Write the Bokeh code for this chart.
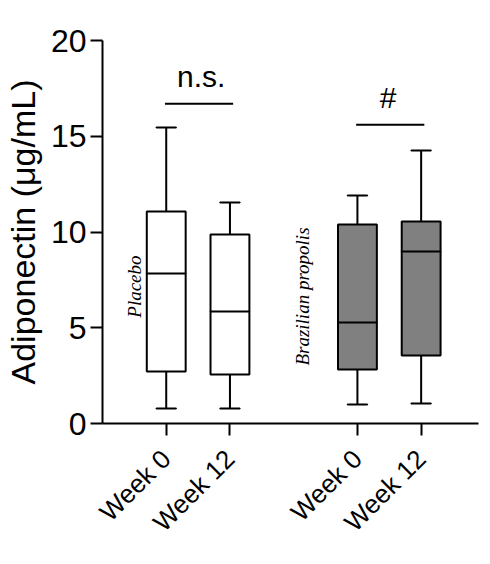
import math
from bokeh.plotting import figure
from bokeh.models import ColumnDataSource, FixedTicker, Range1d, Label
from bokeh.embed import file_html
from bokeh.resources import INLINE

# ---- data ----
groups = ["Placebo", "Placebo", "Brazilian propolis", "Brazilian propolis"]
weeks = ["Week 0", "Week 12", "Week 0", "Week 12"]
whisker_low = [0.78, 0.78, 0.99, 1.04]
q1 = [2.72, 2.56, 2.82, 3.55]
median = [7.83, 5.85, 5.27, 8.98]
q3 = [11.07, 9.87, 10.39, 10.55]
whisker_high = [15.46, 11.54, 11.90, 14.26]
box_colors = ["white", "white", "#808080", "#808080"]
y_ticks = [0, 5, 10, 15, 20]
y_title = "Adiponectin (μg/mL)"
sig_labels = ["n.s.", "#"]
sig_levels = [16.7, 15.6]
sig_text_levels = [18.1, 17.0]
group_label_levels = [7.15, 6.63]

# ---- positions derived from categories ----
group_names = list(dict.fromkeys(groups))
week_names = list(dict.fromkeys(weeks))
pos = [group_names.index(g) * 3 + week_names.index(w) + 1 for g, w in zip(groups, weeks)]

FONT = "Liberation Sans"
BOX_W = 0.61
CAP_W = 0.31

p = figure(width=482, height=556, output_backend="svg", toolbar_location=None,
           x_range=Range1d(0, 5.9), y_range=Range1d(0, 20),
           min_border_left=100, min_border_right=4, min_border_top=40, min_border_bottom=133)
p.outline_line_color = None
p.xgrid.visible = False
p.ygrid.visible = False
p.background_fill_color = "white"
p.border_fill_color = "white"

src = ColumnDataSource(dict(x=pos, lo=whisker_low, q1=q1, med=median, q3=q3, hi=whisker_high,
                            color=box_colors))

# whiskers
p.segment(x0="x", y0="q3", x1="x", y1="hi", source=src, line_color="black", line_width=2)
p.segment(x0="x", y0="lo", x1="x", y1="q1", source=src, line_color="black", line_width=2)
# caps
p.rect(x="x", y="hi", width=CAP_W, height=0.0001, source=src, line_color="black", line_width=2, fill_color=None)
p.rect(x="x", y="lo", width=CAP_W, height=0.0001, source=src, line_color="black", line_width=2, fill_color=None)
# boxes
p.vbar(x="x", width=BOX_W, bottom="q1", top="q3", source=src, fill_color="color",
       line_color="black", line_width=2)
# medians
p.rect(x="x", y="med", width=BOX_W, height=0.0001, source=src, line_color="black", line_width=2, fill_color=None)

# significance bars
sig_text_dx = [0.05, -0.02]
for gi, g in enumerate(group_names):
    xs = [x for x, gg in zip(pos, groups) if gg == g]
    p.line([min(xs) - 0.02, max(xs) + 0.05], [sig_levels[gi]] * 2, line_color="black", line_width=2)
    p.add_layout(Label(x=(min(xs) + max(xs)) / 2 + sig_text_dx[gi], y=sig_text_levels[gi], text=sig_labels[gi],
                       text_font=FONT, text_font_size="30px", text_align="center",
                       text_baseline="middle", text_color="black"))

# group labels (rotated)
group_label_dx = [-0.5, -0.86]
for gi, g in enumerate(group_names):
    xs = [x for x, gg in zip(pos, groups) if gg == g]
    p.add_layout(Label(x=min(xs) + group_label_dx[gi], y=group_label_levels[gi], text=g,
                       angle=math.pi / 2, text_font="Liberation Serif", text_font_style="italic",
                       text_font_size="19px", text_align="center", text_baseline="middle",
                       text_color="black"))

# axes
p.yaxis.ticker = FixedTicker(ticks=y_ticks)
p.yaxis.axis_label = y_title
p.yaxis.axis_label_text_font = FONT
p.yaxis.axis_label_text_font_size = "34px"
p.yaxis.axis_label_text_font_style = "normal"
p.yaxis.axis_label_text_color = "black"
p.yaxis.axis_label_standoff = 6
p.yaxis.major_label_text_font = FONT
p.yaxis.major_label_text_font_size = "32px"
p.yaxis.major_label_standoff = 4

p.xaxis.ticker = FixedTicker(ticks=pos)
p.xaxis.major_label_overrides = {x: w for x, w in zip(pos, weeks)}
p.xaxis.major_label_orientation = math.pi / 4
p.xaxis.major_label_text_font = FONT
p.xaxis.major_label_text_font_size = "26px"
p.xaxis.major_label_standoff = 19

for ax in (p.xaxis, p.yaxis):
    ax.axis_line_width = 2
    ax.axis_line_color = "black"
    ax.major_tick_line_width = 2
    ax.major_tick_line_color = "black"
    ax.major_tick_out = 12
    ax.major_tick_in = 0
    ax.minor_tick_line_color = None
    ax.major_label_text_color = "black"

open("out.html", "w").write(file_html(p, INLINE))
